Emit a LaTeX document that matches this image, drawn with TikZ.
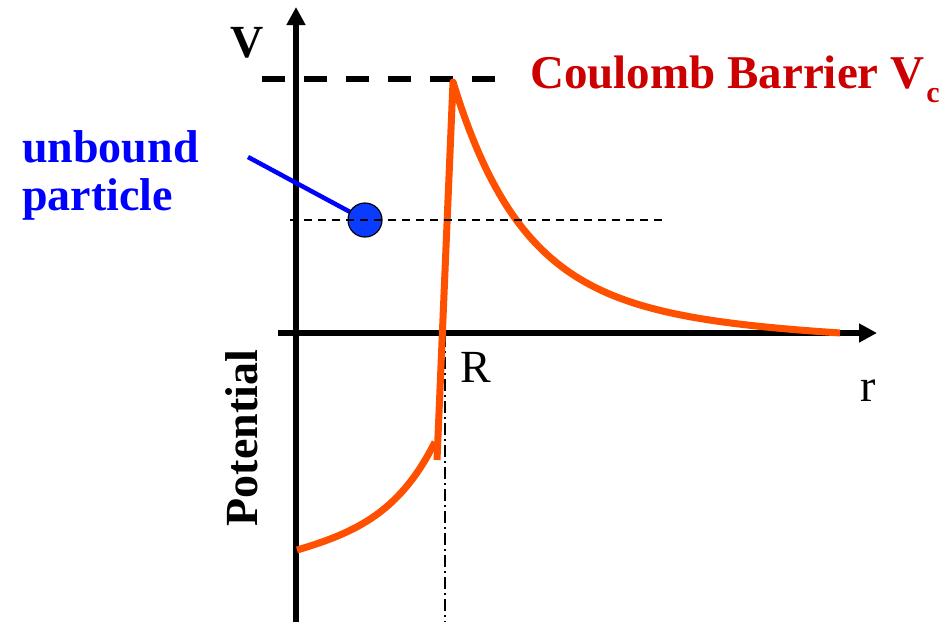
\documentclass[tikz,border=0pt]{standalone}
\usepackage{fontspec}
\setmainfont{Liberation Serif}
\usetikzlibrary{arrows.meta}
\definecolor{barrierred}{HTML}{CC0000}
\definecolor{curveorange}{HTML}{FF5000}
\definecolor{partblue}{HTML}{0000FF}
\definecolor{ballblue}{HTML}{0A3CFF}
\begin{document}
\begin{tikzpicture}[x=1pt,y=-1pt,
  axis/.style={line width=5.5pt,-{Triangle[length=18pt,width=18pt]}},
  boldlbl/.style={inner sep=0pt,font=\fontsize{46}{48}\selectfont\bfseries},
  plainlbl/.style={inner sep=0pt,font=\fontsize{46}{48}\selectfont},
  curve/.style={line width=7pt,curveorange,line join=round},
  ball/.style={circle,minimum size=34pt,inner sep=0pt,fill=ballblue,draw=black,line width=1.2pt},
  pointer/.style={line width=4.5pt,partblue},
  barrier/.style={line width=6pt,dash pattern=on 23pt off 19pt},
  level/.style={line width=1.5pt,dash pattern=on 8pt off 6pt},
  radius line/.style={line width=1.8pt,dash pattern=on 12pt off 4pt on 2pt off 4pt}]
\useasboundingbox (0,0) rectangle (952,622);
% axes
\coordinate (ybot) at (296,622);
\coordinate (ytop) at (296,7);
\coordinate (xleft) at (278,333);
\coordinate (xright) at (877,333);
\draw[axis] (ybot) -- (ytop);
\draw[axis] (xleft) -- (xright);
% Coulomb barrier level
\coordinate (vcl) at (262,79);
\coordinate (vcr) at (495,79);
\draw[barrier] (vcl) -- (vcr);
% radius line
\coordinate (rtop) at (445,335);
\coordinate (rbot) at (445,622);
\draw[radius line] (rtop) -- (rbot);
% potential curve
\draw[curve] plot[domain=0:138,samples=60,variable=\s] ({297+\s},{550-9.83*(exp(0.018*\s)-1)-0.12*\s*(138-\s)/138});
\draw[curve] (437,460) -- plot[domain=0:387,samples=100,variable=\u] ({453+\u},{333-251*(0.8*exp(-0.015*\u)+0.2*exp(-0.005*\u))+0.02016*\u});
% particle
\coordinate (ptr) at (248,157);
\coordinate (ballc) at (365,220);
\draw[pointer] (ptr) -- (ballc);
\node[ball] (ball) at (ballc) {};
\coordinate (lvl) at (290,220);
\coordinate (lvr) at (663,220);
\draw[level] (lvl) -- (lvr);
% labels
\node[boldlbl,anchor=base west] (vlab) at (230,57) {V};
\node[boldlbl,text=barrierred,anchor=base west,font=\fontsize{47}{48}\selectfont\bfseries] (cb) at (530,88) {Coulomb Barrier V\kern2pt\raisebox{-14pt}{\fontsize{30}{30}\selectfont c}};
\node[boldlbl,text=partblue,align=left,anchor=base west] (ub) at (22,210) {unbound\\particle};
\node[plainlbl,anchor=base west] (Rlab) at (460,382) {R};
\node[plainlbl,anchor=base west] (rlab) at (860,401) {r};
\node[boldlbl,rotate=90,anchor=base] (pot) at (257,438) {Potential};
\end{tikzpicture}
\end{document}
